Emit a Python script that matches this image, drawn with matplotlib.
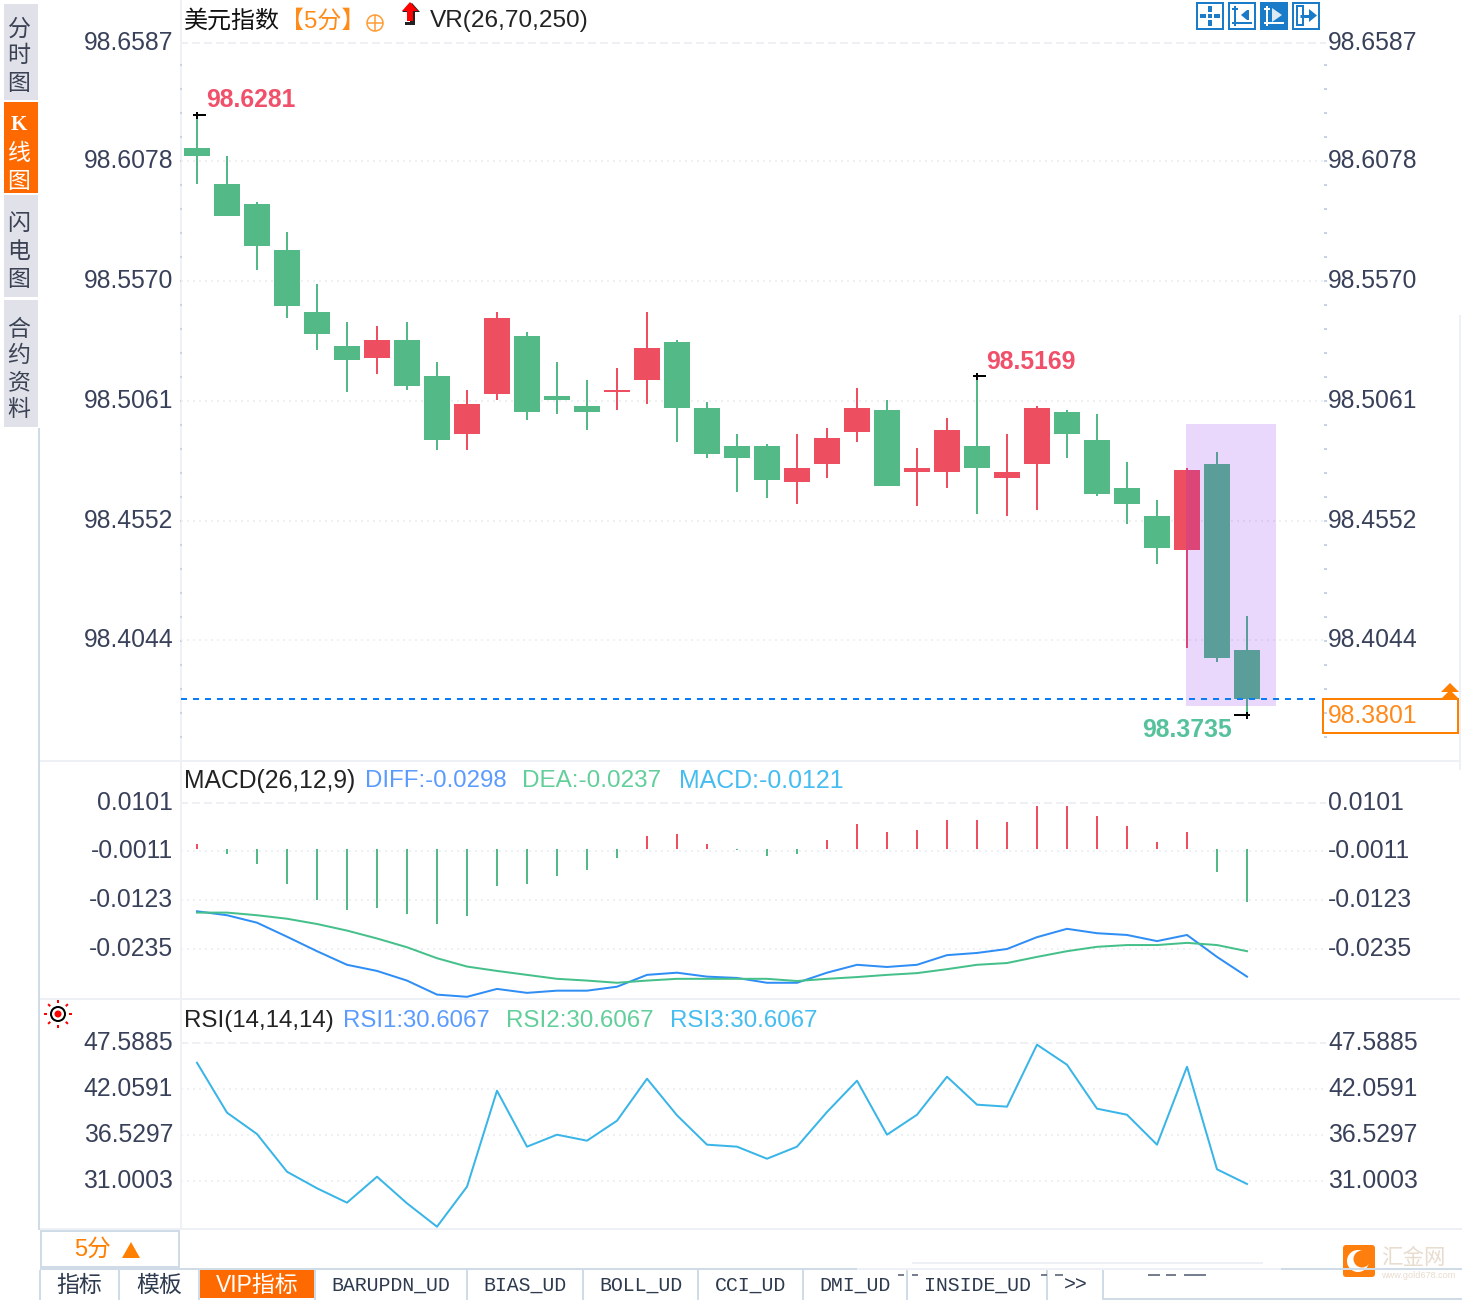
import numpy as np
import matplotlib
matplotlib.use("Agg")
import matplotlib.pyplot as plt
from matplotlib.patches import Rectangle, Circle, Polygon, FancyBboxPatch
from matplotlib.path import Path

plt.rcParams['font.family'] = ['Liberation Sans', 'Noto Sans CJK SC', 'DejaVu Sans']
plt.rcParams['lines.scale_dashes'] = False

# ---------- data ----------
opens = [98.6132, 98.5979, 98.5894, 98.5699, 98.5436, 98.5292, 98.5241, 98.5318, 98.5165,
         98.4919, 98.5089, 98.5335, 98.5080, 98.5038, 98.5097, 98.5148, 98.5309, 98.5029,
         98.4868, 98.4868, 98.4715, 98.4792, 98.4927, 98.5021, 98.4758, 98.4758, 98.4868,
         98.4732, 98.4792, 98.5012, 98.4893, 98.4690, 98.4571, 98.4427, 98.4792, 98.4003]
closes = [98.6098, 98.5844, 98.5716, 98.5462, 98.5343, 98.5233, 98.5318, 98.5122, 98.4893,
          98.5046, 98.5411, 98.5012, 98.5063, 98.5012, 98.5106, 98.5284, 98.5029, 98.4834,
          98.4817, 98.4724, 98.4775, 98.4902, 98.5029, 98.4698, 98.4775, 98.4936, 98.4775,
          98.4758, 98.5029, 98.4919, 98.4665, 98.4622, 98.4435, 98.4766, 98.3969, 98.3795]
highs = [98.6272, 98.6098, 98.5903, 98.5776, 98.5555, 98.5394, 98.5377, 98.5394, 98.5224,
         98.5106, 98.5436, 98.5352, 98.5224, 98.5148, 98.5199, 98.5436, 98.5318, 98.5055,
         98.4919, 98.4877, 98.4919, 98.4944, 98.5114, 98.5063, 98.4860, 98.4987, 98.5165,
         98.4919, 98.5038, 98.5021, 98.5004, 98.4800, 98.4639, 98.4775, 98.4843, 98.4147]
lows = [98.5979, 98.5844, 98.5615, 98.5411, 98.5275, 98.5097, 98.5173, 98.5106, 98.4851,
        98.4851, 98.5063, 98.4978, 98.5004, 98.4936, 98.5021, 98.5046, 98.4885, 98.4817,
        98.4673, 98.4648, 98.4622, 98.4732, 98.4885, 98.4698, 98.4614, 98.4690, 98.4580,
        98.4571, 98.4597, 98.4817, 98.4656, 98.4537, 98.4368, 98.4011, 98.3952, 98.3727]
macd_hist = [0.0011, -0.0011, -0.0034, -0.0080, -0.0116, -0.0139, -0.0134, -0.0148, -0.0171,
             -0.0153, -0.0084, -0.0080, -0.0062, -0.0048, -0.0021, 0.0030, 0.0034, 0.0011,
             -0.0002, -0.0016, -0.0011, 0.0021, 0.0057, 0.0039, 0.0043, 0.0066, 0.0066,
             0.0062, 0.0098, 0.0098, 0.0075, 0.0052, 0.0016, 0.0039, -0.0052, -0.0121]
diff = [-0.0149, -0.0158, -0.0175, -0.0207, -0.0240, -0.0271, -0.0285, -0.0307, -0.0339,
        -0.0344, -0.0326, -0.0335, -0.0330, -0.0330, -0.0321, -0.0294, -0.0289, -0.0298,
        -0.0301, -0.0312, -0.0312, -0.0289, -0.0271, -0.0276, -0.0271, -0.0249, -0.0244,
        -0.0235, -0.0208, -0.0189, -0.0199, -0.0203, -0.0217, -0.0203, -0.0253, -0.0298]
dea = [-0.0152, -0.0152, -0.0158, -0.0166, -0.0178, -0.0193, -0.0211, -0.0231, -0.0256,
       -0.0275, -0.0285, -0.0294, -0.0303, -0.0307, -0.0312, -0.0307, -0.0303, -0.0303,
       -0.0303, -0.0303, -0.0308, -0.0303, -0.0299, -0.0294, -0.0290, -0.0281, -0.0271,
       -0.0267, -0.0253, -0.0240, -0.0230, -0.0226, -0.0226, -0.0221, -0.0226, -0.0240]
rsi = [45.18, 39.18, 36.61, 32.08, 30.09, 28.36, 31.48, 28.28, 25.47, 30.28, 41.82, 35.09,
       36.53, 35.81, 38.21, 43.26, 38.86, 35.33, 35.09, 33.64, 35.09, 39.26, 43.02, 36.53,
       38.93, 43.50, 40.14, 39.90, 47.35, 44.94, 39.66, 38.93, 35.33, 44.70, 32.37, 30.6067]

price_ticks = [98.6587, 98.6078, 98.5570, 98.5061, 98.4552, 98.4044]
macd_ticks = [0.0101, -0.0011, -0.0123, -0.0235]
rsi_ticks = [47.5885, 42.0591, 36.5297, 31.0003]
macd_tick_labels = ['0.0101', '-0.0011', '-0.0123', '-0.0235']

last_price = 98.3795
last_label = '98.3801'
high_marks = [(0, '98.6281', 15), (26, '98.5169', 14)]
low_mark = (35, '98.3735')
tab_labels = ['指标', '模板', 'VIP指标', 'BARUPDN_UD', 'BIAS_UD', 'BOLL_UD', 'CCI_UD', 'DMI_UD', 'INSIDE_UD', '>>']

# ---------- style ----------
W, H = 1462, 1300
GREEN, RED = '#53b987', '#ee4f60'
TXT = '#39415a'
GRID = '#eef1f4'
SEP = '#edf1f5'
EDGE = '#cfdbe6'
ORANGE = '#ff7f00'
PX = 0.72
FS = 17.8
DOT = (0, (2 * PX, 4 * PX))
DASH = (0, (6 * PX, 6 * PX))
SLOT, X0, LEFT, RIGHT = 30, 197, 181, 1325

fig = plt.figure(figsize=(W / 100, H / 100), dpi=100, facecolor='white')

bg = fig.add_axes([0, 0, 1, 1], zorder=0)
bg.set_xlim(0, W)
bg.set_ylim(H, 0)
bg.axis('off')


def line(xs, ys, color, w=2, **kw):
    bg.plot(xs, ys, color=color, lw=w * PX, solid_capstyle='butt', **kw)


def rect(x0, y0, x1, y1, color, **kw):
    bg.add_patch(Rectangle((x0, y0), x1 - x0, y1 - y0, facecolor=color, edgecolor='none', **kw))


def frame(x0, y0, x1, y1, color, w=2, face='none'):
    bg.add_patch(Rectangle((x0, y0), x1 - x0, y1 - y0, facecolor=face, edgecolor=color, lw=w * PX))


def label(x, y, s, color=TXT, size=17.5, ha='left', **kw):
    bg.text(x, y + 2, s, color=color, fontsize=size, ha=ha, va='center', **kw)


def panel(y_top, y_bot, ylim):
    ax = fig.add_axes([LEFT / W, 1 - y_bot / H, (RIGHT - LEFT) / W, (y_bot - y_top) / H], zorder=2)
    ax.patch.set_alpha(0)
    ax.set_xlim((LEFT - X0) / SLOT, (RIGHT - X0) / SLOT)
    ax.set_ylim(*ylim)
    ax.set_xticks([])
    for s in ['left', 'right', 'bottom']:
        ax.spines[s].set_visible(False)
    ax.spines['top'].set_color(GRID)
    ax.spines['top'].set_linewidth(2 * PX)
    ax.spines['top'].set_linestyle(DASH)
    return ax


def ticks(ax, values, labels, top_dy=0):
    lo, hi = ax.get_ylim()
    inside = [(v, l) for v, l in zip(values, labels) if lo < v < hi]
    ax.set_yticks([v for v, _ in inside], [l for _, l in inside])
    ax.tick_params(axis='y', length=0, pad=5.6, labelsize=FS, labelcolor=TXT)
    twin = ax.twinx()
    twin.set_zorder(2)
    twin.set_ylim(lo, hi)
    twin.set_yticks([v for v, _ in inside], [l for _, l in inside])
    twin.tick_params(axis='y', length=0, pad=2.2, labelsize=FS, labelcolor=TXT)
    for s in twin.spines.values():
        s.set_visible(False)
    for lab in ax.get_yticklabels() + twin.get_yticklabels():
        lab.set_va('center')
    for v, _ in inside:
        ax.axhline(v, color=GRID, lw=2 * PX, ls=DOT, zorder=0.5)
    for v, l in zip(values, labels):
        if v >= hi:
            tr = ax.get_yaxis_transform()
            ax.annotate(l, xy=(0, v), xycoords=tr, xytext=(-8, top_dy), textcoords='offset pixels',
                        ha='right', va='center', fontsize=FS, color=TXT, annotation_clip=False)
            ax.annotate(l, xy=(1, v), xycoords=tr, xytext=(3, top_dy), textcoords='offset pixels',
                        ha='left', va='center', fontsize=FS, color=TXT, annotation_clip=False)


x = np.arange(len(closes))

# ---------- price panel ----------
K, BASE = 0.00042416, 98.67598
pa = panel(42.7, 761, (BASE - K * 761, BASE - K * 42.7))
ticks(pa, price_ticks, [f'{v:.4f}' for v in price_ticks], top_dy=-2)
o, c, h, l = map(np.array, (opens, closes, highs, lows))
cols = [RED if cc >= oo else GREEN for oo, cc in zip(o, c)]
pa.vlines(x, l, h, colors=cols, lw=2 * PX, zorder=2)
pa.bar(x, np.abs(c - o), bottom=np.minimum(o, c), width=26 / SLOT, color=cols, zorder=2.5)
pa.axhline(last_price, xmax=(1318 - LEFT) / (RIGHT - LEFT), color='#0a7cf5', lw=2 * PX, ls=DASH, zorder=4)
pa.add_patch(Rectangle((32.97, BASE - K * 706), 3.0, K * (706 - 424), facecolor='#8314f3',
                       alpha=0.17, edgecolor='none', zorder=3))
mark_r = Path([(-4.5, 0), (8.5, 0), (0, -3.5), (0, 3.5)], [1, 2, 1, 2])
mark_l = Path([(-13, 0), (3, 0), (0, -3.5), (0, 3.5)], [1, 2, 1, 2])
for i, s, dy in high_marks:
    pa.plot([i], [highs[i]], marker=mark_r, ms=17 * PX, mew=2 * PX, color='black', ls='none', zorder=5, clip_on=False)
    pa.annotate(s, xy=(i, highs[i]), xytext=(9, dy), textcoords='offset pixels', color='#f0506a',
                fontsize=FS, fontweight='bold', ha='left', va='center')
i, s = low_mark
pa.plot([i], [lows[i]], marker=mark_l, ms=26 * PX, mew=2 * PX, color='black', ls='none', zorder=5, clip_on=False)
pa.annotate(s, xy=(i, lows[i]), xytext=(-15, -15), textcoords='offset pixels', color='#55c29b',
            fontsize=FS, fontweight='bold', ha='right', va='center', annotation_clip=False)

# ---------- MACD panel ----------
MK, M0 = 0.000228, -0.0235
mv = lambda y: M0 + (949 - y) * MK
ma = panel(802.7, 998.7, (mv(998.7), mv(802.7)))
ticks(ma, macd_ticks, macd_tick_labels, top_dy=-1)
ZERO = mv(849)
ma.vlines(x, ZERO, ZERO + np.array(macd_hist), colors=[RED if v > 0 else GREEN for v in macd_hist],
          lw=2 * PX, zorder=2)
ma.plot(x, diff, color='#2f8ef5', lw=2 * PX, zorder=3, clip_on=False)
ma.plot(x, dea, color='#45c08a', lw=2 * PX, zorder=3, clip_on=False)

# ---------- RSI panel ----------
RK, R0 = 0.12021, 31.0003
rv = lambda y: R0 + (1180.7 - y) * RK
ra = panel(1042.7, 1228.7, (rv(1228.7), rv(1042.7)))
ticks(ra, rsi_ticks, [f'{v:.4f}' for v in rsi_ticks])
ra.plot(x, rsi, color='#39b5e8', lw=2 * PX, zorder=3, clip_on=False)

# ---------- chrome: axes lines ----------
line([LEFT, LEFT], [0, 1230], SEP)
line([39, 39], [428, 1230], EDGE)
line([40, 1460], [761, 761], SEP)
line([40, 1460], [999, 999], SEP)
line([40, W], [1229, 1229], SEP)
line([1460, 1460], [315, 770], SEP)
for y in np.arange(65, 760, 24):
    line([179.5, 182], [y, y], '#c7d3e2', 2)
    line([1324, 1326.5], [y, y], '#c7d3e2', 2)

# ---------- side tabs ----------
tabs = [(4, 100, '#e0e1e9'), (102, 193, '#ff6a00'), (195, 297, '#e0e1e9'), (300, 427, '#e0e1e9')]
for y0, y1, col in tabs:
    rect(4, y0, 38, y1, col)
side = [('分', 27), ('时', 54), ('图', 81), ('闪', 222), ('电', 250), ('图', 278),
        ('合', 328), ('约', 354), ('资', 381), ('料', 408)]
for s, y in side:
    label(19, y, s, color='#3b4254', size=16.5, ha='center')
for s, y in [('线', 152), ('图', 180)]:
    label(19, y, s, color='white', size=16.5, ha='center')
bg.text(19, 125, 'K', color='white', fontsize=15, ha='center', va='center', family='Liberation Serif',
        fontweight='bold')

# ---------- titles ----------
label(184, 19, '美元指数', color='#111111', size=17.3)
label(280, 19, '【5分】', color='#ff8c1a', size=17.3)
bg.add_patch(Circle((375, 23), 8, fill=False, ec='#ff9a30', lw=1.5 * PX))
line([367, 383], [23, 23], '#ff9a30', 1.5)
line([375, 375], [15, 31], '#ff9a30', 1.5)
bg.add_patch(Polygon([(412, 3), (420, 12), (415, 12), (415, 25), (405, 25), (405, 22), (410, 22), (410, 12), (402, 12)],
                     closed=True, fc='#222222', ec='none'))
bg.add_patch(Polygon([(410, 2), (418, 11), (413, 11), (413, 21), (407, 21), (407, 11), (402, 11)],
                     closed=True, fc='#ff0000', ec='none'))
label(430, 19, 'VR(26,70,250)', color='#222222', size=17.6)
label(184, 779, 'MACD(26,12,9)', color='#222222', size=17.8)
label(365, 779, 'DIFF:-0.0298', color='#5b9bff', size=17.3)
label(522, 779, 'DEA:-0.0237', color='#62cf9b')
label(679, 779, 'MACD:-0.0121', color='#45bdf0', size=17.9)
label(184, 1019, 'RSI(14,14,14)', color='#222222', size=17.4)
label(343, 1019, 'RSI1:30.6067', color='#5b9bff', size=17.3)
label(506, 1019, 'RSI2:30.6067', color='#62cf9b', size=17.4)
label(670, 1019, 'RSI3:30.6067', color='#45bdf0', size=17.4)

# ---------- toolbar ----------
BLUE = '#1a7bc9'
for x0 in (1196, 1228, 1292):
    frame(x0 + 1, 3, x0 + 27, 29, BLUE)
rect(1260, 2, 1288, 30, BLUE)
for a, b, c_, d in [(1208, 6, 1212, 12), (1208, 20, 1212, 26), (1200, 14, 1206, 18), (1214, 14, 1220, 18),
                    (1208, 14, 1212, 18)]:
    rect(a, b, c_, d, BLUE)
line([1235, 1235], [6, 26], BLUE)
line([1232, 1252], [23, 23], BLUE)
line([1232, 1238], [9, 9], BLUE)
line([1248, 1248], [10, 20], BLUE)
bg.add_patch(Polygon([(1241, 15), (1247, 10), (1247, 20)], closed=True, fc=BLUE, ec='none'))
line([1267, 1267], [6, 26], 'white')
line([1264, 1284], [23, 23], 'white')
line([1264, 1270], [9, 9], 'white')
bg.add_patch(Polygon([(1272, 8), (1282, 15), (1272, 22)], closed=True, fc='#dceaf6', ec='none'))
frame(1297, 6, 1303, 25, BLUE)
line([1300, 1310], [15.5, 15.5], BLUE, 3)
bg.add_patch(Polygon([(1309, 9), (1317, 15.5), (1309, 22)], closed=True, fc=BLUE, ec='none'))

# ---------- last price box ----------
frame(1323, 699, 1458, 733, ORANGE, face='white')
label(1328, 714, last_label, color='#ff8a1a', size=FS)
for yy in (683, 690):
    bg.add_patch(Polygon([(1450, yy), (1459, yy + 9), (1441, yy + 9)], closed=True, fc=ORANGE, ec='none'))

# ---------- sun icon ----------
sx, sy = 58, 1014
bg.add_patch(Circle((sx, sy), 7, fill=False, ec='black', lw=2 * PX))
bg.add_patch(Circle((sx, sy), 3.5, fc='#ff0000', ec='none'))
for ang in np.arange(0, 360, 45):
    dx, dy = np.cos(np.radians(ang)), np.sin(np.radians(ang))
    line([sx + 11 * dx, sx + 14 * dx], [sy + 11 * dy, sy + 14 * dy], '#ff0000')

# ---------- bottom ----------
frame(41, 1231, 179, 1267, EDGE)
label(92, 1248, '5分', color=ORANGE, size=17, ha='center')
bg.add_patch(Polygon([(131, 1242), (140, 1258), (122, 1258)], closed=True, fc=ORANGE, ec='none'))
line([40, 857], [1268.5, 1268.5], EDGE)
line([857, 1281], [1268.5, 1268.5], SEP)
line([1281, W], [1268.5, 1268.5], EDGE)
line([912, 1263], [1263, 1263], SEP)
rect(200, 1268, 315, 1298, '#ff6a00')
for xx in (40, 119, 199, 315, 467, 583, 698, 803, 907, 1047, 1103):
    line([xx, xx], [1270, 1300], EDGE)
line([1103, W], [1298.5, 1298.5], EDGE)
centers = [79, 159, 257, 391, 525, 641, 751, 855, 977, 1076]
for i, (s, xc) in enumerate(zip(tab_labels, centers)):
    col = 'white' if i == 2 else '#2e3a4e'
    if i < 3:
        label(xc, 1283, s, color=col, size=16.5, ha='center')
    else:
        bg.text(xc, 1285, s, color=col, fontsize=14.3, ha='center', va='center', family='Liberation Mono')
for a, b in [(898, 904), (912, 918), (1041, 1047), (1055, 1063), (1148, 1160), (1166, 1176), (1184, 1206)]:
    line([a, b], [1275, 1275], '#4a5468', 1.5)

# ---------- logo ----------
bg.add_patch(FancyBboxPatch((1345, 1247), 28, 28, boxstyle='round,pad=2,rounding_size=3', fc='#ff7f0e', ec='none'))
bg.add_patch(Circle((1358, 1261), 11, fc='white', ec='none'))
bg.add_patch(Circle((1362, 1259), 8.5, fc='#ff7f0e', ec='none'))
label(1381, 1256, '汇金网', color='#e8dccf', size=15.5)
label(1381, 1273, 'www.gold678.com', color='#e8dccf', size=6.6)

fig.savefig('out.png', dpi=100)
